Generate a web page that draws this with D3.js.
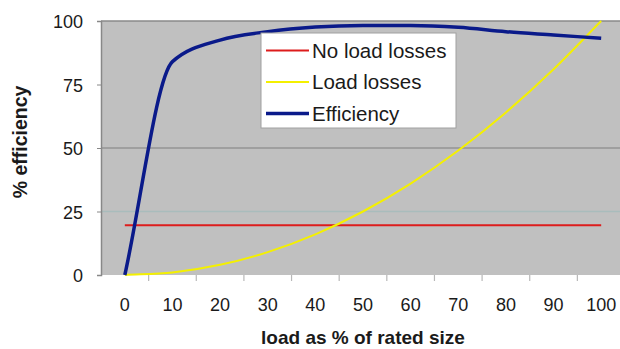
<!DOCTYPE html>
<html>
<head>
<meta charset="utf-8">
<script src="https://cdn.jsdelivr.net/npm/d3@7"></script>
<style>
  html, body { margin: 0; padding: 0; background: #fff; }
  svg { display: block; font-family: "Liberation Sans", Arial, sans-serif; }
</style>
</head>
<body>
<svg id="chart" width="620" height="349"></svg>
<script>
// Load as % of rated size
const loads = [0, 10, 20, 30, 40, 50, 60, 70, 80, 90, 100];
// Series values
const noLoadLosses = [19.6, 19.6, 19.6, 19.6, 19.6, 19.6, 19.6, 19.6, 19.6, 19.6, 19.6];
const loadLosses   = [0, 1, 4, 9, 16, 25, 36, 49, 64, 81, 100];
const efficiency   = [0, 84, 92.5, 95.8, 97.6, 98.2, 98.2, 97.5, 95.8, 94.5, 93.2];
const yTicks = [0, 25, 50, 75, 100];

const seriesNames  = ["No load losses", "Load losses", "Efficiency"];
const seriesColors = ["#dd1c1c", "#f4f000", "#0a1a8a"];
const seriesWidths = [2, 2, 3.5];
const seriesData   = [noLoadLosses, loadLosses, efficiency];

// Smoothed line: cubic Hermite with Steffen (monotone) slopes at interior
// points and the end secant slope at both ends.
function SmoothCurve(context) { this._context = context; }
SmoothCurve.prototype = {
  areaStart() { this._line = 0; },
  areaEnd() { this._line = NaN; },
  lineStart() { this._pts = []; },
  point(px, py) { this._pts.push([+px, +py]); },
  lineEnd() {
    const p = this._pts, n = p.length, ctx = this._context;
    if (!n) return;
    ctx.moveTo(p[0][0], p[0][1]);
    if (n === 1) return;
    if (n === 2) { ctx.lineTo(p[1][0], p[1][1]); return; }
    const h = [], s = [], m = [];
    for (let i = 0; i < n - 1; i++) {
      h[i] = p[i + 1][0] - p[i][0];
      s[i] = (p[i + 1][1] - p[i][1]) / h[i];
    }
    m[0] = s[0];
    m[n - 1] = s[n - 2];
    for (let i = 1; i < n - 1; i++) {
      const pp = (s[i - 1] * h[i] + s[i] * h[i - 1]) / (h[i - 1] + h[i]);
      m[i] = (Math.sign(s[i - 1]) + Math.sign(s[i])) *
             Math.min(Math.abs(s[i - 1]), Math.abs(s[i]), 0.5 * Math.abs(pp)) || 0;
    }
    for (let i = 0; i < n - 1; i++) {
      const dx = h[i] / 3;
      ctx.bezierCurveTo(p[i][0] + dx, p[i][1] + dx * m[i],
                        p[i + 1][0] - dx, p[i + 1][1] - dx * m[i + 1],
                        p[i + 1][0], p[i + 1][1]);
    }
  }
};
const curveSmooth = ctx => new SmoothCurve(ctx);

const svg = d3.select("#chart");
const plot = { left: 101, right: 625, top: 21, bottom: 275 };

const x = d3.scaleBand().domain(loads).range([plot.left, plot.right]).padding(0);
const cx = d => x(d) + x.bandwidth() / 2;
const y = d3.scaleLinear().domain([0, 100]).range([plot.bottom, plot.top]);

// Plot area
svg.append("rect")
  .attr("x", plot.left).attr("y", plot.top)
  .attr("width", plot.right - plot.left).attr("height", plot.bottom - plot.top)
  .attr("fill", "#c0c0c0");

// Gridlines
svg.append("line")
  .attr("x1", plot.left).attr("x2", plot.right)
  .attr("y1", y(50)).attr("y2", y(50))
  .attr("stroke", "#7f7f7f").attr("stroke-width", 1.2);
svg.append("line")
  .attr("x1", plot.left).attr("x2", plot.right)
  .attr("y1", y(25)).attr("y2", y(25))
  .attr("stroke", "#a9bcbc").attr("stroke-width", 1.5);
svg.append("line")
  .attr("x1", plot.left).attr("x2", plot.right)
  .attr("y1", y(100)).attr("y2", y(100))
  .attr("stroke", "#8a8a8a").attr("stroke-width", 1.5);

// Y axis
const yAxis = svg.append("g")
  .attr("transform", `translate(${plot.left},0)`)
  .call(d3.axisLeft(y).tickValues(yTicks).tickSize(4).tickPadding(14));
yAxis.select(".domain").attr("stroke", "#888").attr("stroke-width", 1.5);
yAxis.selectAll(".tick line").attr("stroke", "#888");
yAxis.selectAll(".tick text")
  .attr("font-size", 18).attr("fill", "#1a1a1a").attr("dy", "0.38em")
  .attr("font-family", "Liberation Sans, Arial, sans-serif");

// X axis labels at category centres
const xAxis = svg.append("g")
  .attr("transform", `translate(0,${plot.bottom})`)
  .call(d3.axisBottom(x).tickSize(0).tickPadding(23));
xAxis.select(".domain").remove();
xAxis.selectAll(".tick text")
  .attr("font-size", 18).attr("fill", "#1a1a1a")
  .attr("font-family", "Liberation Sans, Arial, sans-serif");

// Tick marks between categories
svg.append("g").selectAll("line")
  .data(loads.slice(1))
  .join("line")
  .attr("x1", d => x(d)).attr("x2", d => x(d))
  .attr("y1", plot.bottom).attr("y2", plot.bottom + 6)
  .attr("stroke", "#b8b8b8").attr("stroke-width", 1.2);

// Series lines
const line = d3.line()
  .x((d, i) => cx(loads[i]))
  .y(d => y(d))
  .curve(curveSmooth);

seriesData.forEach((vals, i) => {
  svg.append("path")
    .datum(vals)
    .attr("fill", "none")
    .attr("stroke", seriesColors[i])
    .attr("stroke-width", seriesWidths[i])
    .attr("stroke-linejoin", "round")
    .attr("d", line);
});

// Legend
const legend = svg.append("g").attr("transform", "translate(261,33)");
legend.append("rect")
  .attr("width", 195).attr("height", 95)
  .attr("fill", "#fff").attr("stroke", "#a0a0a0").attr("stroke-width", 1);
seriesNames.forEach((name, i) => {
  const ly = 17.5 + i * 31.5;
  legend.append("line")
    .attr("x1", 5).attr("x2", 48).attr("y1", ly).attr("y2", ly)
    .attr("stroke", seriesColors[i]).attr("stroke-width", seriesWidths[i]);
  legend.append("text")
    .attr("x", 51).attr("y", ly).attr("dy", "0.36em")
    .attr("font-size", 20.5).attr("fill", "#1a1a1a")
    .text(name);
});

// Axis titles
svg.append("text")
  .attr("x", 363).attr("y", 344)
  .attr("text-anchor", "middle")
  .attr("font-size", 19).attr("font-weight", "bold").attr("fill", "#1a1a1a")
  .text("load as % of rated size");
svg.append("text")
  .attr("transform", "translate(27,142) rotate(-90)")
  .attr("text-anchor", "middle")
  .attr("font-size", 19.5).attr("font-weight", "bold").attr("fill", "#1a1a1a")
  .text("% efficiency");
</script>
</body>
</html>
